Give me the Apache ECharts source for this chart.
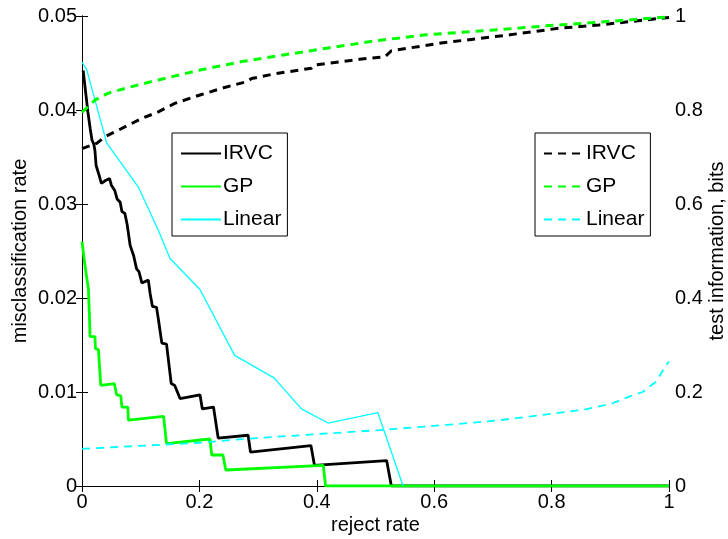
<!DOCTYPE html>
<html>
<head>
<meta charset="utf-8">
<script src="https://cdn.jsdelivr.net/npm/echarts@6/dist/echarts.min.js"></script>
<style>
  html, body { margin: 0; padding: 0; background: #fff; }
  #main { width: 728px; height: 539px; }
</style>
</head>
<body>
<div id="main"></div>
<script>
// reject rate vs misclassification rate (left) and test information (right)
var irvcMis = [
  [0.002, 0.0442], [0.006, 0.0420], [0.010, 0.0398], [0.014, 0.0380], [0.017, 0.0368],
  [0.020, 0.0364], [0.022, 0.0357], [0.024, 0.0341], [0.028, 0.0333], [0.033, 0.0322],
  [0.036, 0.0324], [0.040, 0.0325], [0.047, 0.0327], [0.050, 0.0320], [0.056, 0.0314],
  [0.060, 0.0305], [0.065, 0.0302], [0.068, 0.0292], [0.073, 0.0290], [0.077, 0.0278],
  [0.082, 0.0256], [0.088, 0.0245], [0.093, 0.0231], [0.097, 0.0228], [0.102, 0.0216],
  [0.113, 0.0219], [0.116, 0.0205], [0.120, 0.0191], [0.127, 0.0190], [0.130, 0.0178],
  [0.136, 0.0152], [0.144, 0.0151], [0.148, 0.0130], [0.152, 0.0109], [0.158, 0.0107],
  [0.167, 0.0093], [0.201, 0.0097], [0.205, 0.0082], [0.224, 0.0084], [0.232, 0.0051],
  [0.283, 0.0054], [0.287, 0.0036], [0.390, 0.0043], [0.396, 0.0022], [0.519, 0.0027],
  [0.527, 0], [1.0, 0]
];
var gpMis = [
  [0.000, 0.0260], [0.004, 0.0240], [0.008, 0.0222], [0.011, 0.0209], [0.013, 0.0175],
  [0.0136, 0.0159], [0.022, 0.0159], [0.023, 0.0146], [0.028, 0.0145], [0.032, 0.0107],
  [0.055, 0.0109], [0.059, 0.0097], [0.066, 0.0096], [0.068, 0.0084], [0.078, 0.0084],
  [0.079, 0.0070], [0.139, 0.0074], [0.144, 0.0045], [0.218, 0.0050], [0.221, 0.0033],
  [0.240, 0.0033], [0.245, 0.0017], [0.411, 0.0022], [0.415, 0], [1.0, 0]
];
var linearMis = [
  [0.000, 0.0451], [0.008, 0.0443], [0.042, 0.0365], [0.096, 0.0318], [0.130, 0.0272],
  [0.150, 0.0242], [0.201, 0.0209], [0.260, 0.0139], [0.327, 0.0115], [0.374, 0.0082],
  [0.419, 0.0067], [0.504, 0.0078], [0.547, 0]
];
var irvcInfo = [
  [0.000, 0.718], [0.025, 0.729], [0.039, 0.743], [0.073, 0.764], [0.102, 0.782],
  [0.130, 0.796], [0.158, 0.814], [0.201, 0.832], [0.243, 0.848], [0.280, 0.860],
  [0.289, 0.867], [0.328, 0.877], [0.391, 0.889], [0.397, 0.896], [0.473, 0.908],
  [0.516, 0.913], [0.527, 0.926], [0.615, 0.943], [0.729, 0.960], [0.813, 0.974],
  [0.881, 0.981], [1.0, 0.997]
];
var gpInfo = [
  [0.000, 0.795], [0.022, 0.821], [0.045, 0.836], [0.079, 0.848], [0.130, 0.864],
  [0.201, 0.885], [0.272, 0.903], [0.343, 0.917], [0.414, 0.931], [0.499, 0.947],
  [0.586, 0.960], [0.700, 0.970], [0.791, 0.979], [0.870, 0.986], [1.0, 0.998]
];
var linearInfo = [
  [0.000, 0.079], [0.200, 0.092], [0.286, 0.101], [0.507, 0.119], [0.621, 0.130],
  [0.711, 0.140], [0.853, 0.162], [0.904, 0.176], [0.932, 0.190], [0.955, 0.200],
  [0.978, 0.222], [0.995, 0.257], [1.0, 0.265]
];
var legendNames = ['IRVC', 'GP', 'Linear'];

var font = 'Liberation Sans, Arial, sans-serif';
var chart = echarts.init(document.getElementById('main'), null, { renderer: 'canvas' });

function lineSeries(name, data, color, width, dashed, yIdx) {
  return {
    name: name,
    type: 'line',
    yAxisIndex: yIdx,
    data: data,
    symbol: 'none',
    animation: false,
    lineStyle: { color: color, width: width, type: dashed ? [8, 6] : 'solid' },
    itemStyle: { color: color }
  };
}

var axisText = { color: '#000', fontSize: 20, fontFamily: font };
var tickStyle = { show: true, inside: true, length: 6, lineStyle: { color: '#000' } };
var lineStyleAxis = { show: true, lineStyle: { color: '#000', width: 1 } };

function legendBox(names, left) {
  return {
    data: names,
    formatter: function (n) { return n.trim(); },
    orient: 'vertical', left: left, top: 133,
    selectedMode: false,
    backgroundColor: '#fff',
    borderColor: '#000', borderWidth: 1,
    padding: [10, 6, 6, 8],
    itemWidth: 40, itemHeight: 14, itemGap: 12,
    itemStyle: { opacity: 0 },
    textStyle: { color: '#000', fontSize: 21, fontFamily: font, padding: [0, 0, 0, -3] }
  };
}

var option = {
  backgroundColor: '#fff',
  animation: false,
  grid: { left: 82, right: 59, top: 16, bottom: 53, show: false, outerBoundsMode: 'none' },
  xAxis: [{
    type: 'value', min: 0, max: 1, interval: 0.2, position: 'bottom',
    name: 'reject rate', nameLocation: 'middle', nameGap: 29, nameMoveOverlap: false,
    nameTextStyle: axisText,
    axisLine: lineStyleAxis,
    axisTick: tickStyle,
    axisLabel: { color: '#000', fontSize: 20, fontFamily: font, margin: 6 },
    splitLine: { show: false }
  }, {
    type: 'value', min: 0, max: 1, interval: 0.2, position: 'top',
    axisLine: lineStyleAxis,
    axisTick: tickStyle,
    axisLabel: { show: false },
    splitLine: { show: false }
  }],
  yAxis: [{
    type: 'value', min: 0, max: 0.05, interval: 0.01, position: 'left',
    name: 'misclassification rate', nameLocation: 'middle', nameGap: 52, nameMoveOverlap: false,
    nameTextStyle: axisText,
    axisLine: lineStyleAxis,
    axisTick: tickStyle,
    axisLabel: { color: '#000', fontSize: 20, fontFamily: font, margin: 5 },
    splitLine: { show: false }
  }, {
    type: 'value', min: 0, max: 1, interval: 0.2, position: 'right',
    name: 'test information, bits', nameLocation: 'middle', nameGap: 38, nameMoveOverlap: false,
    nameRotate: 90,
    nameTextStyle: axisText,
    axisLine: lineStyleAxis,
    axisTick: tickStyle,
    axisLabel: { color: '#000', fontSize: 20, fontFamily: font, margin: 6 },
    splitLine: { show: false }
  }],
  legend: [
    legendBox(legendNames, 172),
    legendBox(legendNames.map(function (n) { return n + ' '; }), 535)
  ],
  series: [
    lineSeries('IRVC', irvcMis, '#000000', 2.8, false, 0),
    lineSeries('GP', gpMis, '#00ff00', 2.8, false, 0),
    lineSeries('Linear', linearMis, '#00ffff', 1.3, false, 0),
    lineSeries('IRVC ', irvcInfo, '#000000', 3, true, 1),
    lineSeries('GP ', gpInfo, '#00ff00', 3, true, 1),
    lineSeries('Linear ', linearInfo, '#00ffff', 1.8, true, 1)
  ]
};
chart.setOption(option);
</script>
</body>
</html>
